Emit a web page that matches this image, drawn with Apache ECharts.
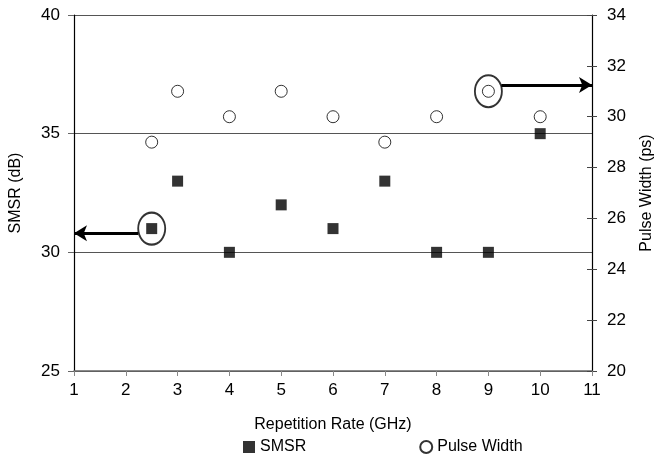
<!DOCTYPE html>
<html>
<head>
<meta charset="utf-8">
<script src="https://cdn.jsdelivr.net/npm/echarts@6/dist/echarts.min.js"></script>
<style>
html, body { margin: 0; padding: 0; background: #fff; }
#chart { width: 663px; height: 463px; }
</style>
</head>
<body>
<div id="chart"></div>
<script>
var rates = [2.5, 3, 4, 5, 6, 7, 8, 9, 10];
var smsr = [31, 33, 30, 32, 31, 33, 30, 30, 35];
var pulseWidth = [29, 31, 30, 31, 30, 29, 30, 31, 30];

// highlighted points and where their arrows go
var smsrMark = [2.5, 31];
var smsrArrow = [[2.24, 30.8], [1, 30.8]];
var pulseMark = [9, 31];
var pulseArrow = [[9.25, 31.25], [11, 31.25]];

var font = 'Liberation Sans, Arial, sans-serif';

var pairs = function(xs, ys) {
	return xs.map(function(x, i) { return [x, ys[i]]; });
};

var chart = echarts.init(document.getElementById('chart'));

var option = {
	animation : false,
	textStyle : { fontFamily : font, color : '#000' },
	grid : { left : 66, right : 60, top : 15, bottom : 92 },
	legend : {
		bottom : 3,
		left : 238,
		itemGap : 113,
		itemWidth : 12,
		itemHeight : 12,
		textStyle : { fontSize : 16, fontFamily : font, color : '#000' },
		data : [
			{ name : 'SMSR', icon : 'rect' },
			{ name : 'Pulse Width', icon : 'circle' }
		]
	},
	xAxis : {
		type : 'value',
		min : 1, max : 11, interval : 1,
		name : 'Repetition Rate (GHz)',
		nameLocation : 'middle',
		nameGap : 46,
		nameTextStyle : { fontSize : 16, fontFamily : font, color : '#000' },
		axisLine : { lineStyle : { color : '#666', width : 1.5 } },
		axisTick : { length : 5, lineStyle : { color : '#888' } },
		axisLabel : { fontSize : 17, color : '#000', margin : 11 },
		splitLine : { show : false }
	},
	yAxis : [ {
		type : 'value',
		min : 25, max : 40, interval : 5,
		name : 'SMSR (dB)',
		nameLocation : 'middle',
		nameGap : 50,
		nameTextStyle : { fontSize : 16, fontFamily : font, color : '#000' },
		axisLine : { show : true, lineStyle : { color : '#000', width : 1.2 } },
		axisTick : { show : true, length : 6, lineStyle : { color : '#666' } },
		axisLabel : { fontSize : 17, color : '#000', margin : 14 },
		splitLine : { show : true, lineStyle : { color : '#555', width : 1 } }
	}, {
		type : 'value',
		min : 20, max : 34, interval : 2,
		position : 'right',
		name : 'Pulse Width (ps)',
		nameLocation : 'middle',
		nameGap : 47,
		nameRotate : 90,
		nameTextStyle : { fontSize : 16, fontFamily : font, color : '#000' },
		axisLine : { show : true, lineStyle : { color : '#000', width : 1.2 } },
		axisTick : { show : true, length : 5, lineStyle : { color : '#444' } },
		axisLabel : { fontSize : 17, color : '#000', margin : 15 },
		splitLine : { show : false }
	}, {
		// inner half of the crossing ticks on the right axis
		type : 'value',
		min : 20, max : 34, interval : 2,
		position : 'right',
		axisLine : { show : false },
		axisTick : { show : true, inside : true, length : 5, lineStyle : { color : '#444' } },
		axisLabel : { show : false },
		splitLine : { show : false }
	} ],
	series : [ {
		name : 'SMSR',
		type : 'scatter',
		yAxisIndex : 0,
		symbol : 'rect',
		symbolSize : 11,
		itemStyle : { color : '#000' },
		data : pairs(rates, smsr),
		z : 3
	}, {
		name : 'Pulse Width',
		type : 'scatter',
		yAxisIndex : 1,
		symbol : 'circle',
		symbolSize : 12,
		itemStyle : { color : '#fff', borderColor : '#000', borderWidth : 1 },
		data : pairs(rates, pulseWidth),
		z : 3
	}, {
		name : 'smsrMark',
		type : 'scatter',
		yAxisIndex : 0,
		symbol : 'circle',
		symbolSize : [27, 32],
		itemStyle : { color : 'rgba(0,0,0,0)', borderColor : '#000', borderWidth : 2 },
		data : [smsrMark],
		markLine : {
			silent : true,
			symbol : ['none', 'arrow'],
			symbolSize : [12, 13],
			label : { show : false },
			lineStyle : { color : '#000', width : 3, type : 'solid' },
			data : [[{ coord : smsrArrow[0] }, { coord : smsrArrow[1] }]]
		},
		z : 4
	}, {
		name : 'pulseMark',
		type : 'scatter',
		yAxisIndex : 1,
		symbol : 'circle',
		symbolSize : [27, 32],
		itemStyle : { color : 'rgba(0,0,0,0)', borderColor : '#000', borderWidth : 2 },
		data : [pulseMark],
		markLine : {
			silent : true,
			symbol : ['none', 'arrow'],
			symbolSize : [12, 13],
			label : { show : false },
			lineStyle : { color : '#000', width : 3, type : 'solid' },
			data : [[{ coord : pulseArrow[0] }, { coord : pulseArrow[1] }]]
		},
		z : 4
	} ]
};

chart.setOption(option);
</script>
</body>
</html>
